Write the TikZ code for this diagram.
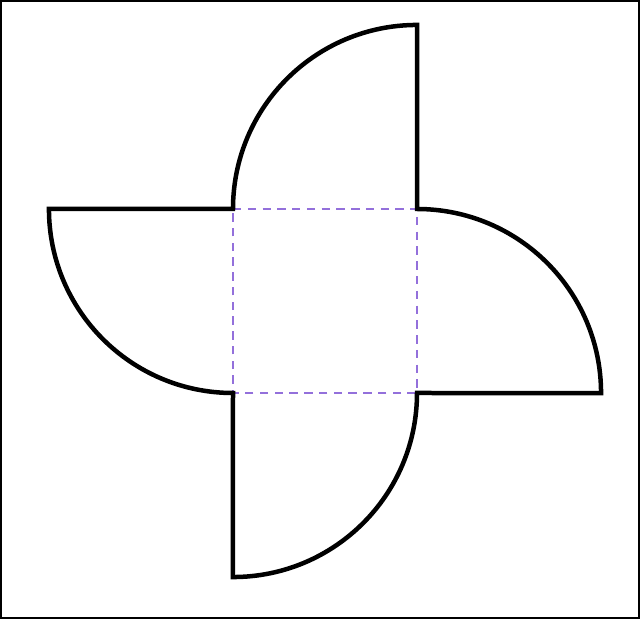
\documentclass[tikz,border=0pt]{standalone}
\usepackage{tikz}
\usetikzlibrary{calc}
\definecolor{guide}{HTML}{9370DB}

\begin{document}
\begin{tikzpicture}[x=0.025cm, y=0.025cm,
        petal/.style={line width=3.2pt, line join=miter},
        frame/.style={line width=1.5pt},
        square/.style={guide, line width=1.1pt, dash pattern=on 6pt off 4.5pt}]
        \useasboundingbox (0,0) rectangle (640,619);
        \draw[frame] (0.5,0.5) rectangle (639.5,618.5);

        \coordinate (a) at (233,410);
        \coordinate (b) at (417,410);
        \coordinate (c) at (417,226);
        \coordinate (d) at (233,226);

        \draw[square] (a) -- (b) -- (c) -- (d) -- cycle;

        \draw[petal]
            (a) arc (180:90:4.6cm) -- (b)
                arc (90:0:4.6cm) -- (c)
                arc (0:-90:4.6cm) -- (d)
                arc (-90:-180:4.6cm) -- cycle;
    \end{tikzpicture}
\end{document}
